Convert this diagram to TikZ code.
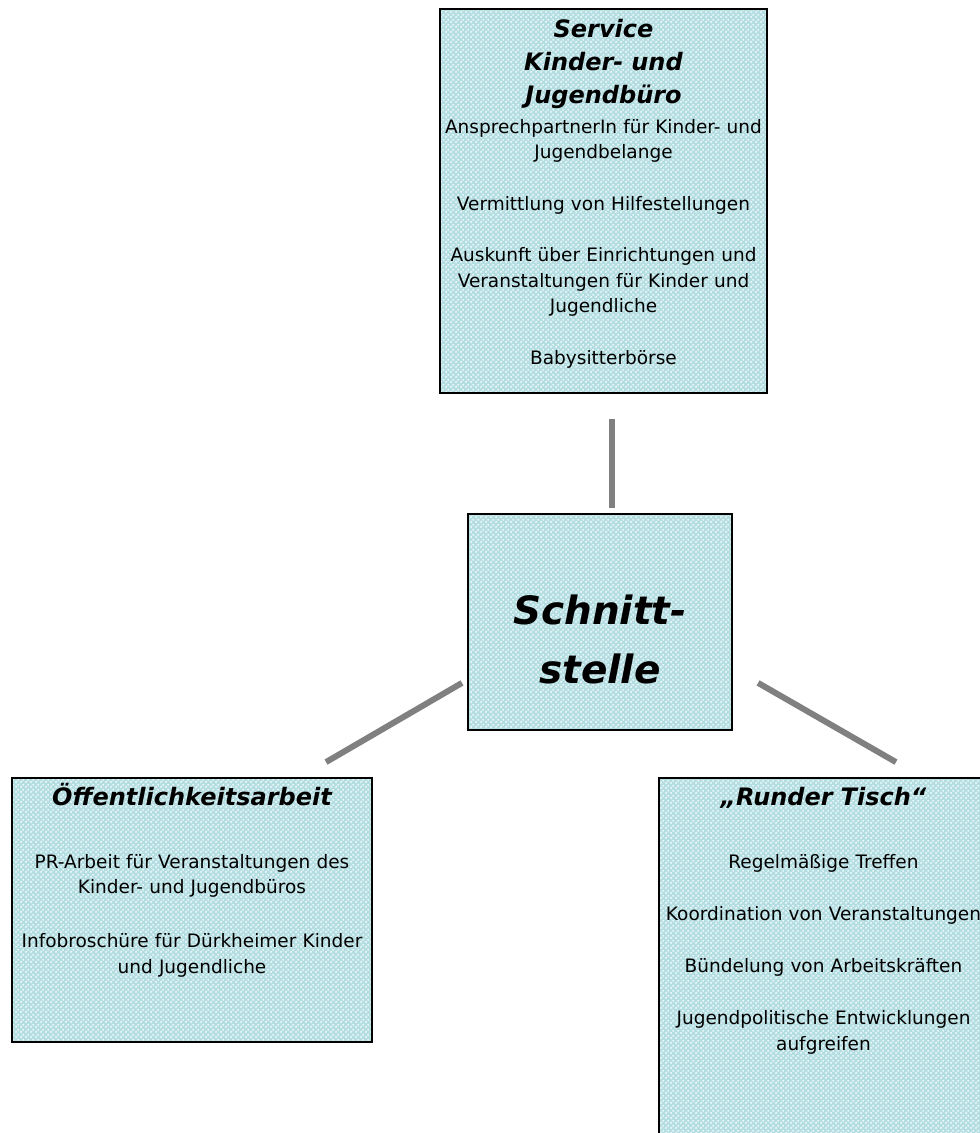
\documentclass[tikz,border=0pt]{standalone}
\usepackage{fontspec}
\setmainfont{DejaVu Sans}[ItalicFont={DejaVu Sans Oblique},BoldFont={DejaVu Sans Bold},BoldItalicFont={DejaVu Sans Bold Oblique}]
\usetikzlibrary{patterns}
\definecolor{kastenfarbe}{RGB}{180,222,226}
\definecolor{linienfarbe}{RGB}{128,128,128}
\pgfdeclarepatternformonly{rautenpunkte}{\pgfpointorigin}{\pgfpoint{5pt}{5pt}}{\pgfpoint{5pt}{5pt}}{
  \pgfpathcircle{\pgfpoint{1.25pt}{1.25pt}}{1.1pt}
  \pgfpathcircle{\pgfpoint{3.75pt}{3.75pt}}{1.1pt}
  \pgfusepath{fill}}
\tikzset{
  kasten/.style={draw=black,line width=2pt,preaction={fill=kastenfarbe},
    pattern=rautenpunkte,pattern color=white,inner sep=0pt},
  titel/.style={font=\fontsize{24}{33}\selectfont\bfseries\itshape,
    text width=360pt,align=center,anchor=base},
  inhalt/.style={font=\fontsize{18.5}{25.5}\selectfont,
    text width=380pt,align=center,anchor=base},
  verbindung/.style={draw=linienfarbe,line width=6pt}
}

\begin{document}
\begin{tikzpicture}[x=1pt,y=-1pt]
  \clip (0,0) rectangle (980,1133);

  % kaesten
  \node[kasten,minimum width=327pt,minimum height=384pt] (service) at (603.5,201) {};
  \node[kasten,minimum width=264pt,minimum height=216pt] (mitte) at (600,622) {};
  \node[kasten,minimum width=360pt,minimum height=264pt] (oeffentlich) at (192,910) {};
  \node[kasten,minimum width=329pt,minimum height=380pt] (tisch) at (823.5,968) {};

  % verbindungen
  \draw[verbindung,shorten <=25pt,shorten >=5pt] ([xshift=8.5pt]service.south) -- ([xshift=12pt]mitte.north);
  \draw[verbindung,shorten <=5.8pt,shorten >=29.7pt] ([yshift=51pt]mitte.south west) -- ([xshift=-72.6pt]oeffentlich.north east);
  \draw[verbindung,shorten <=28.9pt,shorten >=29.9pt] ([yshift=62.5pt]mitte.south east) -- ([xshift=263.9pt]tisch.north west);

  % service
  \node[titel] (servicetitel) at (603.5,37) {Service\\Kinder- und\\Jugendbüro};
  \node[inhalt] (serviceinhalt) at (603.5,133) {AnsprechpartnerIn für Kinder- und\\Jugendbelange\\[26pt]
    Vermittlung von Hilfestellungen\\[26pt]
    Auskunft über Einrichtungen und\\Veranstaltungen für Kinder und\\Jugendliche\\[26pt]
    Babysitterbörse};

  % schnittstelle
  \node[titel,font=\fontsize{39}{59}\selectfont\bfseries\itshape] (mittetitel) at (600,624) {Schnitt-\\stelle};

  % oeffentlichkeitsarbeit
  \node[titel] (oeffentlichtitel) at (192,805) {Öffentlichkeitsarbeit};
  \node[inhalt] (oeffentlichinhalt) at (192,868) {PR-Arbeit für Veranstaltungen des\\Kinder- und Jugendbüros\\[28.5pt]
    Infobroschüre für Dürkheimer Kinder\\und Jugendliche};

  % runder tisch
  \node[titel] (tischtitel) at (823.5,805) {„Runder Tisch“};
  \node[inhalt] (tischinhalt) at (823.5,868) {Regelmäßige Treffen\\[26.5pt]
    Koordination von Veranstaltungen\\[26.5pt]
    Bündelung von Arbeitskräften\\[27pt]
    Jugendpolitische Entwicklungen\\aufgreifen};
\end{tikzpicture}
\end{document}
